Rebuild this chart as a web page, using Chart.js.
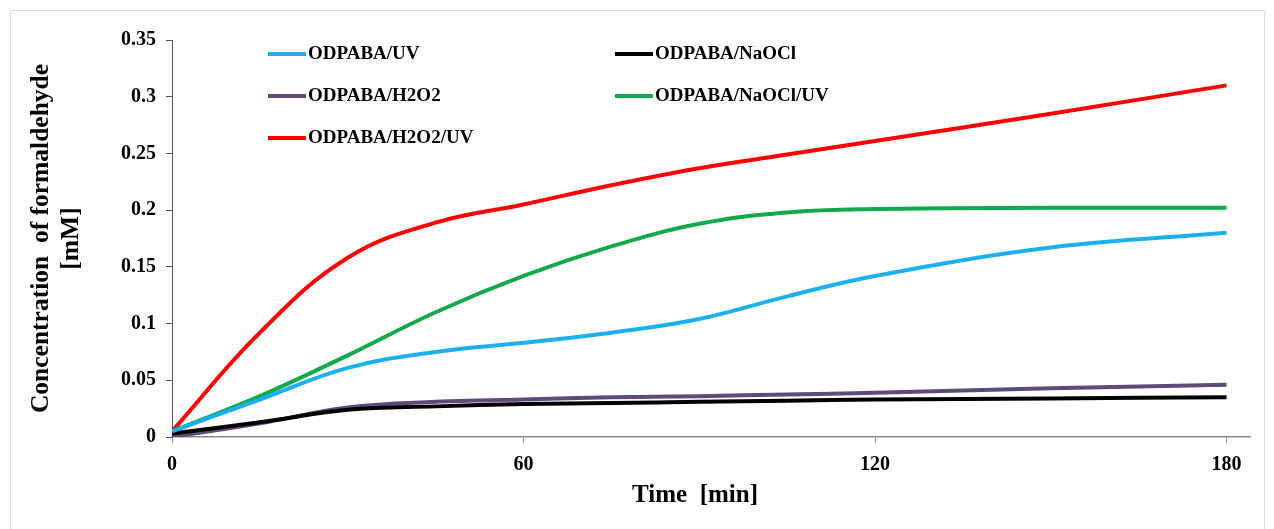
<!DOCTYPE html>
<html>
<head>
<meta charset="utf-8">
<script src="https://cdn.jsdelivr.net/npm/chart.js@4"></script>
<style>
  html, body { margin: 0; padding: 0; background: #fff; }
</style>
</head>
<body>
<canvas id="chart" width="1274" height="529"></canvas>
<script>
/* DATA */
const times    = [0, 15, 30, 45, 60, 75, 90, 105, 120, 150, 180];
const uv       = [0.005, 0.033, 0.061, 0.075, 0.083, 0.092, 0.104, 0.124, 0.142, 0.167, 0.180];
const naocl    = [0.003, 0.013, 0.024, 0.027, 0.029, 0.030, 0.031, 0.032, 0.033, 0.034, 0.035];
const h2o2     = [0.000, 0.012, 0.026, 0.031, 0.033, 0.035, 0.036, 0.0375, 0.039, 0.043, 0.046];
const naoclUv  = [0.005, 0.036, 0.072, 0.110, 0.142, 0.168, 0.188, 0.198, 0.201, 0.202, 0.202];
const h2o2Uv   = [0.005, 0.092, 0.158, 0.189, 0.205, 0.222, 0.237, 0.249, 0.261, 0.285, 0.310];
const seriesNames = ["ODPABA/UV", "ODPABA/NaOCl", "ODPABA/H2O2", "ODPABA/NaOCl/UV", "ODPABA/H2O2/UV"];
const xTicks = [0, 60, 120, 180];

const serif = "'Liberation Serif', 'Times New Roman', serif";
const colors = ["#1cb0ef", "#000000", "#604a7b", "#14a84c", "#ff0000"];
const seriesValues = [uv, naocl, h2o2, naoclUv, h2o2Uv];

/* legend slots (line start x, row y), same order as datasets */
const legendSlots = [[268, 54], [615, 54], [268, 96], [615, 96], [268, 138]];

const extras = {
  id: "extras",
  beforeDraw(chart) {
    const c = chart.ctx;
    c.save();
    c.strokeStyle = "#dcdcdc";
    c.lineWidth = 1;
    c.strokeRect(10.5, 10.5, 1254, 540);
    c.restore();
  },
  afterDraw(chart) {
    const c = chart.ctx;
    c.save();
    // legend
    c.font = "bold 19px " + serif;
    c.textBaseline = "middle";
    chart.data.datasets.forEach((ds, i) => {
      const [x, y] = legendSlots[i];
      c.strokeStyle = ds.borderColor;
      c.lineWidth = 4;
      c.beginPath();
      c.moveTo(x, y);
      c.lineTo(x + 38, y);
      c.stroke();
      c.fillStyle = "#000";
      c.fillText(ds.label, x + 40, y);
    });
    // x axis title
    c.font = "bold 25px " + serif;
    c.textAlign = "center";
    c.fillText("Time  [min]", 695, 496);
    c.restore();
  }
};

const ctx = document.getElementById("chart");

new Chart(ctx, {
  type: "line",
  data: {
    labels: times,
    datasets: seriesNames.map((name, i) => ({
      label: name,
      data: times.map((t, j) => ({ x: t, y: seriesValues[i][j] })),
      borderColor: colors[i],
      backgroundColor: colors[i],
      borderWidth: 4,
      pointRadius: 0,
      tension: 0.4,
      fill: false
    }))
  },
  options: {
    responsive: false,
    animation: false,
    layout: { padding: { left: 26, right: 24, top: 40, bottom: 0 } },
    plugins: {
      legend: { display: false },
      tooltip: { enabled: false }
    },
    scales: {
      x: {
        type: "linear",
        min: 0,
        max: 184,
        afterBuildTicks: s => { s.ticks = xTicks.map(v => ({ value: v })); },
        afterFit: s => { s.height = 92; },
        ticks: {
          color: "#000",
          padding: 10,
          font: { family: serif, size: 20, weight: "bold" }
        },
        grid: { drawOnChartArea: false, drawTicks: true, tickLength: 6, color: "#8a968a" },
        border: { color: "#7f8f7f", width: 1.5 }
      },
      y: {
        min: 0,
        max: 0.35,
        afterFit: s => { s.width = 146; },
        ticks: {
          stepSize: 0.05,
          color: "#000",
          padding: 10,
          font: { family: serif, size: 20, weight: "bold" },
          callback: v => String(+v.toFixed(2))
        },
        grid: { drawOnChartArea: false, drawTicks: true, tickLength: 6, color: "#555" },
        border: { color: "#555", width: 1 },
        title: {
          display: true,
          text: ["Concentration  of formaldehyde", "[mM]"],
          color: "#000",
          padding: 0,
          font: { family: serif, size: 25.5, weight: "bold", lineHeight: 1.2 }
        }
      }
    }
  },
  plugins: [extras]
});
</script>
</body>
</html>
